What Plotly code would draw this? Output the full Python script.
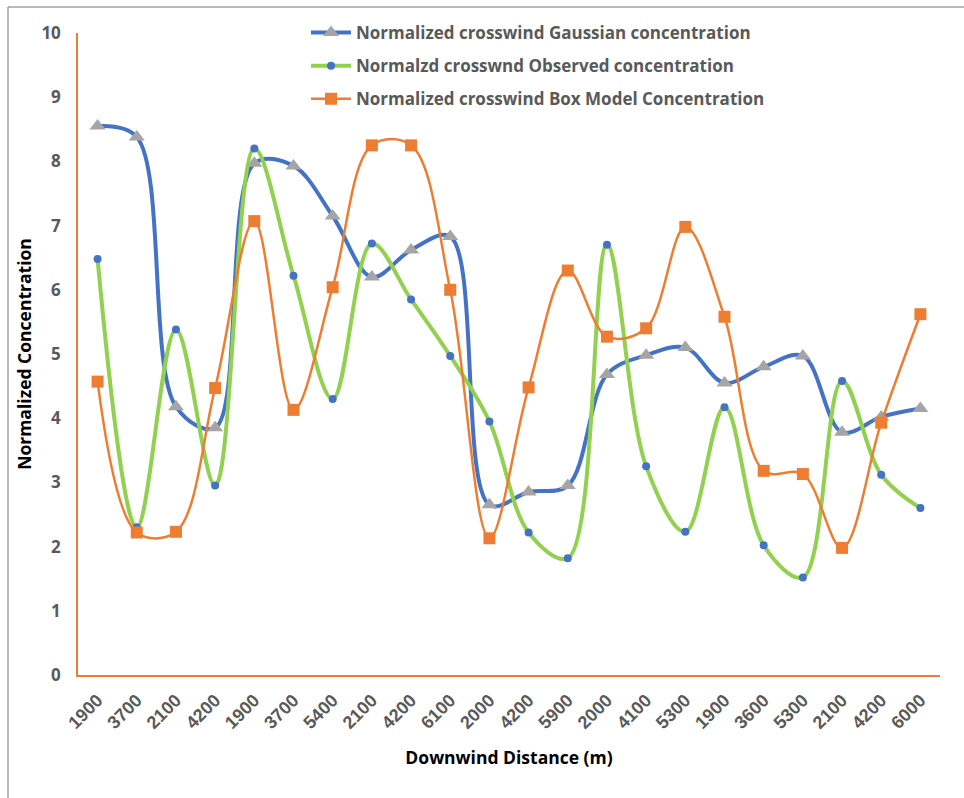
import plotly.graph_objects as go

distance_labels = ["1900", "3700", "2100", "4200", "1900", "3700", "5400", "2100", "4200", "6100",
                   "2000", "4200", "5900", "2000", "4100", "5300", "1900", "3600", "5300", "2100",
                   "4200", "6000"]
gaussian = [8.55, 8.38, 4.18, 3.85, 7.97, 7.93, 7.15, 6.20, 6.62, 6.83,
            2.65, 2.85, 2.95, 4.68, 4.98, 5.10, 4.55, 4.80, 4.97, 3.78, 4.02, 4.15]
observed = [6.48, 2.30, 5.38, 2.95, 8.20, 6.22, 4.30, 6.72, 5.85, 4.97,
            3.95, 2.22, 1.82, 6.70, 3.25, 2.23, 4.17, 2.02, 1.52, 4.58, 3.12, 2.60]
box_model = [4.57, 2.22, 2.23, 4.47, 7.07, 4.13, 6.04, 8.25, 8.25, 6.00,
             2.13, 4.48, 6.30, 5.27, 5.40, 6.98, 5.58, 3.18, 3.13, 1.98, 3.93, 5.62]

xs = list(range(len(distance_labels)))

fig = go.Figure()
fig.add_trace(go.Scatter(
    x=xs, y=gaussian, mode="lines+markers", name="Normalized crosswind Gaussian concentration",
    line=dict(color="#4472C4", width=4, shape="spline", smoothing=1),
    marker=dict(symbol="triangle-up", size=14, color="#A5A5A5"), legendgroup="a"))
fig.add_trace(go.Scatter(
    x=xs, y=observed, mode="lines+markers", name="Normalzd crosswnd Observed concentration",
    line=dict(color="#92D050", width=4, shape="spline", smoothing=1),
    marker=dict(symbol="circle", size=8, color="#4472C4"), legendgroup="b"))
fig.add_trace(go.Scatter(
    x=xs, y=box_model, mode="lines+markers", name="Normalized crosswind Box Model Concentration",
    line=dict(color="#ED7D31", width=2.5, shape="spline", smoothing=1),
    marker=dict(symbol="square", size=12, color="#ED7D31"), legendgroup="c"))

W, H = 964, 798
ml, mr, mt, mb = 78, 24, 33, 123
pw, ph = W - ml - mr, H - mt - mb

fig.update_layout(
    width=W, height=H,
    margin=dict(l=ml, r=mr, t=mt, b=mb),
    paper_bgcolor="white", plot_bgcolor="white",
    font=dict(family="Open Sans, Liberation Sans, sans-serif", color="#595959"),
    showlegend=True,
    legend=dict(x=(306 - ml) / pw, y=1 + (mt - 15) / ph, xanchor="left", yanchor="top",
                font=dict(size=17, color="#595959", family="Open Sans", weight="bold"),
                tracegroupgap=8, bgcolor="rgba(0,0,0,0)", itemwidth=40),
    xaxis=dict(range=[-0.5, len(xs) - 0.5], tickvals=xs, ticktext=distance_labels,
               tickangle=-45, showgrid=False, zeroline=False, showline=True,
               linecolor="#ED7D31", linewidth=1.5, ticks="", ticklabelstandoff=6,
               tickfont=dict(size=18, color="#595959", family="Liberation Sans", weight="bold"),
               title=dict(text="<b>Downwind Distance (m)</b>",
                          font=dict(size=17.5, color="black", family="Open Sans"), standoff=20)),
    yaxis=dict(range=[0, 10], dtick=1, showgrid=False, zeroline=False, showline=True,
               linecolor="#ED7D31", linewidth=1.5, ticks="", ticklabelstandoff=12,
               tickfont=dict(size=17, color="#595959", family="Open Sans", weight="bold"),
               title=dict(text="<b>Normalized Concentration</b>",
                          font=dict(size=17.5, color="black", family="Open Sans"), standoff=5)),
    shapes=[
        dict(type="line", xref="paper", yref="paper", x0=(8 - ml) / pw, x1=(W - ml) / pw,
             y0=1 + (mt - 7) / ph, y1=1 + (mt - 7) / ph, line=dict(color="#A0A0A0", width=1.5)),
        dict(type="line", xref="paper", yref="paper", x0=(8 - ml) / pw, x1=(8 - ml) / pw,
             y0=1 + (mt - 7) / ph, y1=-(mb) / ph, line=dict(color="#A0A0A0", width=1.5)),
    ],
)

fig.write_html("out.html")
